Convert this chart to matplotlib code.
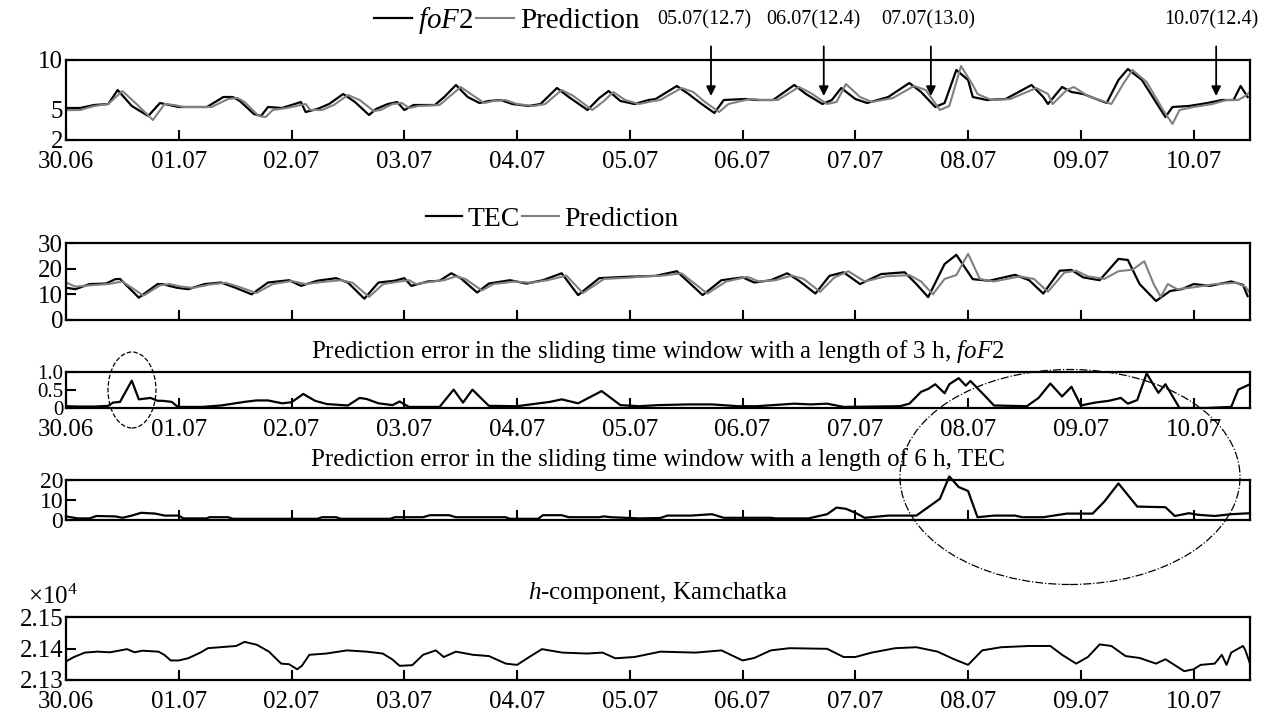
import matplotlib
matplotlib.use('Agg')
import matplotlib.pyplot as plt
from matplotlib.patches import Ellipse
from matplotlib.ticker import FuncFormatter
import numpy as np

plt.rcParams['font.family'] = ['Liberation Serif', 'DejaVu Serif']
plt.rcParams['mathtext.fontset'] = 'custom'
plt.rcParams['mathtext.rm'] = 'Liberation Serif'
plt.rcParams['mathtext.it'] = 'Liberation Serif:italic'
plt.rcParams['font.size'] = 18

day_labels = ['30.06', '01.07', '02.07', '03.07', '04.07', '05.07',
              '06.07', '07.07', '08.07', '09.07', '10.07']

# foF2 (hours since 30.06 00:00, MHz)
fof2_t = [0, 3, 6, 9, 11, 14, 17.5, 20, 22, 24, 30, 33.5, 35.5, 37, 40, 41.5, 43, 46, 50, 51,
          53.5, 56, 59, 61.5, 64.5, 66, 68.5, 70.5, 72, 74, 78.5, 80.5, 83, 85.5, 88, 90, 92.5,
          95, 98.5, 101, 104.5, 107, 111, 113.5, 115.5, 118, 121, 124, 125.5, 130, 132.5, 135,
          138, 140, 144.5, 147, 150.5, 155, 157.5, 161, 163, 165, 168, 170.5, 175, 179.5, 182,
          185, 187, 189.5, 192, 193, 196, 200, 205.5, 208, 209, 212, 214, 216.5, 221.5, 224,
          226, 229, 232.5, 234, 235.5, 239, 243, 246, 248.5, 250, 251.5]
fof2_v = [5.2, 5.2, 5.5, 5.6, 7.0, 5.4, 4.4, 5.7, 5.5, 5.3, 5.3, 6.3, 6.3, 5.9, 4.6, 4.4, 5.3,
          5.2, 5.8, 4.8, 5.1, 5.6, 6.6, 5.8, 4.5, 5.1, 5.6, 5.8, 5.0, 5.5, 5.5, 6.3, 7.5, 6.3,
          5.7, 5.9, 6.0, 5.6, 5.4, 5.6, 7.2, 6.3, 5.0, 6.2, 6.9, 5.9, 5.6, 6.0, 6.1, 7.4, 6.6,
          5.7, 4.7, 6.0, 6.1, 6.0, 6.0, 7.5, 6.6, 5.6, 6.0, 7.2, 6.1, 5.7, 6.3, 7.7, 6.8, 5.3,
          5.7, 9.0, 8.0, 6.3, 6.0, 6.1, 7.5, 6.3, 5.6, 7.3, 6.8, 6.6, 5.7, 8.0, 9.1, 8.0, 5.4,
          4.3, 5.3, 5.4, 5.7, 6.0, 6.0, 7.4, 6.3]
fof2_pred_t = [0, 3, 6, 9, 12, 15, 18.5, 21, 23, 25, 31, 34.5, 36.5, 38, 41, 42.5, 44, 47, 51,
               52, 54.5, 57, 60, 62.5, 65.5, 67, 69.5, 71.5, 73, 75, 79.5, 81.5, 84, 86.5, 89,
               91, 93.5, 96, 99.5, 102, 105.5, 108, 112, 114.5, 116.5, 119, 122, 125, 126.5,
               131, 133.5, 136, 139, 141, 145.5, 148, 151.5, 156, 158.5, 162, 164, 166, 169,
               171.5, 176, 180.5, 183, 186, 188, 190.5, 193, 194, 197, 201, 206.5, 209, 210,
               213, 214.5, 217.5, 222.5, 225, 227, 230, 233.5, 235.5, 237, 240, 244, 247,
               249.5, 251, 252]
fof2_pred_v = [5.0, 5.0, 5.4, 5.6, 6.9, 5.6, 4.0, 5.6, 5.5, 5.3, 5.3, 6.1, 6.2, 5.8, 4.4, 4.3,
               5.0, 5.2, 5.6, 5.0, 5.0, 5.5, 6.5, 6.0, 4.9, 5.0, 5.6, 5.7, 5.2, 5.4, 5.5, 6.3,
               7.3, 6.5, 5.7, 5.9, 6.0, 5.6, 5.4, 5.6, 7.0, 6.4, 5.0, 5.9, 6.8, 6.0, 5.6, 5.9,
               6.0, 7.2, 6.8, 5.8, 4.8, 5.6, 6.1, 6.0, 6.0, 7.3, 6.7, 5.6, 5.8, 7.6, 6.3, 5.8,
               6.2, 7.4, 7.0, 5.0, 5.4, 9.4, 7.5, 6.6, 6.0, 6.1, 7.2, 6.6, 5.6, 7.0, 7.3, 6.4,
               5.6, 7.6, 9.0, 7.8, 5.0, 3.6, 5.0, 5.3, 5.6, 6.0, 6.0, 6.4, 6.8]

# TEC (TECU)
tec_t = [0, 2, 5, 8.5, 10.5, 11.5, 15.5, 19.5, 20.5, 23.5, 26, 29.5, 33, 36, 39.5, 43, 47.5,
         50, 53.5, 57.5, 60, 63.5, 66.5, 70, 72, 73.5, 77, 79.5, 82, 84, 87.5, 90, 94.5, 98,
         101.5, 105.5, 109, 113.5, 119, 122, 125.5, 130, 135.5, 139.5, 144, 146.5, 150, 153.5,
         156, 159.5, 162.5, 165.5, 169, 173.5, 178.5, 181, 183.5, 187, 189.5, 193, 196.5, 202,
         205, 208, 211.5, 214, 216.5, 220, 224, 226, 228.5, 232, 235, 237.5, 240, 243.5, 248,
         250.5, 251.5]
tec_v = [12.6, 12.0, 14.0, 14.2, 15.9, 16.0, 8.7, 14.0, 14.0, 12.6, 12.0, 14.0, 14.6, 12.6,
         10.0, 14.6, 15.5, 13.3, 15.3, 16.3, 14.6, 8.3, 14.6, 15.3, 16.3, 13.3, 15.0, 15.3,
         18.2, 16.3, 10.7, 14.2, 15.5, 14.2, 15.5, 18.2, 9.7, 16.3, 16.8, 17.0, 17.2, 19.0,
         9.7, 15.5, 16.6, 14.6, 15.5, 18.2, 15.3, 10.3, 17.2, 18.6, 14.0, 17.9, 18.6, 14.0,
         8.9, 21.8, 25.4, 15.9, 15.3, 17.6, 15.5, 10.3, 19.2, 19.5, 16.6, 15.5, 23.8, 23.4,
         14.0, 7.4, 11.3, 12.0, 14.0, 13.3, 15.0, 13.7, 9.3]
tec_pred_t = [0, 2, 5, 9, 12, 16.5, 20, 22, 24.5, 27, 30.5, 34, 37, 40.5, 44, 48, 51, 54.5,
              58.5, 61, 64.5, 67.5, 71, 73, 74.5, 78, 80.5, 83, 85, 88.5, 91, 95.5, 99, 102.5,
              106.5, 110, 114.5, 120, 123, 126.5, 131, 136.5, 140.5, 145, 147.5, 151, 154.5,
              157, 160.5, 163.5, 166.5, 170, 174.5, 179.5, 182, 184.5, 187, 189.5, 192, 194.5,
              197.5, 203, 206, 209, 212.5, 215, 217.5, 221, 224, 227, 229.5, 231.5, 233,
              234.5, 236.5, 239, 241, 244.5, 249, 251, 252]
tec_pred_v = [14.6, 13.0, 13.5, 14.0, 15.0, 9.5, 13.5, 14.0, 13.0, 12.5, 13.8, 14.5, 12.8,
              10.5, 14.0, 15.2, 14.0, 14.8, 15.5, 14.5, 9.0, 14.0, 15.0, 15.5, 14.0, 15.0,
              15.5, 17.0, 16.0, 11.5, 14.0, 15.0, 14.5, 15.5, 17.3, 10.5, 16.0, 16.5, 17.0,
              17.2, 18.2, 10.3, 15.0, 16.8, 15.0, 15.5, 17.3, 16.0, 11.0, 16.5, 19.0, 15.0,
              17.0, 17.5, 15.0, 10.0, 16.0, 17.5, 25.8, 16.0, 15.0, 17.0, 16.0, 11.0, 18.5,
              19.2, 17.0, 16.0, 19.0, 19.6, 22.9, 14.0, 9.0, 14.0, 12.0, 12.5, 13.0, 14.0,
              14.5, 13.0, 10.5]

# sliding-window prediction error, 3 h, foF2
err3_t = [0, 3, 6, 9, 10, 11.5, 14, 15.5, 18, 19.5, 20.5, 22.5, 23.8, 29, 33, 38, 40.5, 43,
          46, 48, 50.5, 53, 55.5, 60, 62.5, 64, 66.5, 69.5, 71, 73, 79.5, 82.5, 84.5, 86.5,
          90, 96, 103, 105.5, 109, 114, 118, 122, 126, 132.5, 137.5, 143, 147, 155, 158.5,
          162, 165.5, 177.5, 179.5, 182, 183.5, 185, 187, 188, 190, 191.5, 192.5, 196, 197.5,
          204.5, 207, 209.5, 212, 214, 216, 219, 222, 224.5, 226, 228, 230, 232.5, 234, 237,
          242.5, 248, 249.5, 252]
err3_v = [0.05, 0.04, 0.04, 0.06, 0.15, 0.17, 0.76, 0.24, 0.28, 0.2, 0.2, 0.17, 0.03, 0.03,
          0.07, 0.17, 0.21, 0.21, 0.13, 0.16, 0.39, 0.2, 0.11, 0.07, 0.28, 0.25, 0.13, 0.08,
          0.18, 0.03, 0.03, 0.51, 0.15, 0.51, 0.06, 0.05, 0.17, 0.24, 0.13, 0.47, 0.08, 0.05,
          0.08, 0.1, 0.1, 0.05, 0.05, 0.12, 0.1, 0.12, 0.03, 0.05, 0.12, 0.45, 0.53, 0.66,
          0.41, 0.66, 0.83, 0.62, 0.75, 0.28, 0.07, 0.05, 0.28, 0.68, 0.32, 0.59, 0.07, 0.15,
          0.2, 0.28, 0.12, 0.22, 0.96, 0.42, 0.66, 0.0, 0.0, 0.03, 0.51, 0.66]

# sliding-window prediction error, 6 h, TEC
err6_t = [0, 2.5, 5, 6.5, 10.5, 12, 14, 16, 19, 21, 24, 25, 30, 30.5, 34.5, 35.5, 53.5, 54.5,
          57.5, 58.5, 69, 70, 76, 77.5, 81.5, 83, 93.5, 94.5, 100.5, 101.5, 105.5, 107, 113.5,
          114.5, 116, 122, 126.5, 128, 133, 137.5, 140, 150, 151, 158, 162, 164, 166, 168,
          170, 175, 181, 183.5, 186, 188, 190, 192, 194, 197.5, 202, 203.5, 208, 213, 218.5,
          221, 224, 228, 234, 236, 239, 241, 244.5, 248, 252]
err6_v = [1.8, 0.8, 0.8, 2.0, 1.8, 1.1, 2.2, 3.6, 3.2, 2.2, 2.2, 0.8, 0.8, 1.4, 1.4, 0.6, 0.6,
          1.4, 1.4, 0.6, 0.6, 1.4, 1.4, 2.4, 2.4, 1.4, 1.4, 0.6, 0.6, 2.4, 2.4, 1.4, 1.4, 1.8,
          1.4, 0.8, 1.0, 2.2, 2.2, 2.9, 1.1, 1.1, 0.8, 0.8, 2.9, 6.2, 5.6, 3.6, 1.1, 2.2, 2.2,
          6.4, 10.6, 21.8, 16.5, 14.5, 1.4, 2.2, 2.2, 1.4, 1.4, 3.2, 3.2, 9.2, 18.3, 6.7, 6.4,
          2.0, 3.4, 2.6, 2.0, 2.9, 3.4]

# H-component of the geomagnetic field, Kamchatka (nT)
hcomp_t = [0, 1.7, 4, 6.7, 9.4, 13, 14.6, 16.3, 19.7, 20.9, 22.3, 24, 26, 28.6, 30.2, 33.6,
           36.2, 38, 40.6, 43.2, 45.8, 47.5, 49.2, 50.2, 51.8, 55.4, 59.8, 64, 67.4, 69.4, 71,
           73.7, 76, 78.7, 80.4, 83, 86.6, 90, 93.6, 96, 98.6, 101.3, 105.6, 110.9, 114.2,
           116.9, 121, 126.5, 134, 139.5, 144, 146.5, 150, 154, 162, 165.5, 168, 171.5, 176.5,
           181, 185.5, 189, 192, 195, 199, 205, 209.5, 212, 215, 217.5, 220, 222.5, 225.5,
           228.5, 232, 234, 238, 240, 241.5, 244.5, 246, 247, 248, 250.5, 251, 252]
hcomp_v = [21359, 21373, 21387, 21390, 21388, 21398, 21388, 21393, 21390, 21380, 21362,
           21362, 21369, 21387, 21401, 21405, 21408, 21421, 21412, 21390, 21352, 21350,
           21334, 21345, 21380, 21384, 21394, 21390, 21384, 21366, 21345, 21347, 21380,
           21394, 21373, 21390, 21380, 21376, 21352, 21348, 21373, 21398, 21387, 21384,
           21387, 21369, 21373, 21390, 21387, 21394, 21362, 21370, 21394, 21401, 21399,
           21373, 21373, 21387, 21401, 21404, 21390, 21366, 21348, 21394, 21404, 21408,
           21408, 21380, 21352, 21373, 21413, 21408, 21376, 21370, 21352, 21366, 21328,
           21334, 21348, 21352, 21380, 21348, 21387, 21408, 21395, 21352]

# arrows on the foF2 panel: (arrow day, label day, label)
marks_day = [5.72, 6.72, 7.67, 10.2]
marks_lab_day = [5.66, 6.63, 7.65, 10.16]
marks_text = ['05.07(12.7)', '06.07(12.4)', '07.07(13.0)', '10.07(12.4)']

W, H = 1276, 726
fig = plt.figure(figsize=(W / 100, H / 100), dpi=100)


def box(top, bottom):
    return [66 / W, 1 - bottom / H, 1184 / W, (bottom - top) / H]


def style(ax, labels=True):
    ax.set_xlim(0, 10.5)
    ax.set_xticks(range(11))
    ax.set_xticklabels(day_labels if labels else [])
    ax.tick_params(direction='in', length=7, width=1.5, top=False, right=False)
    ax.tick_params(axis='x', pad=8)
    ax.tick_params(axis='y', pad=2)
    for s in ax.spines.values():
        s.set_linewidth(1.6)


def days(t):
    return np.array(t) / 24.0


ax1 = fig.add_axes(box(60, 140))
l1, = ax1.plot(days(fof2_t), fof2_v, color='black', lw=1.6)
l2, = ax1.plot(days(fof2_pred_t), fof2_pred_v, color='#808080', lw=1.5)
ax1.set_ylim(2, 10)
ax1.set_yticks([2, 5, 10])
style(ax1)
fig.legend([l1, l2], [r'$\mathit{foF}$2', 'Prediction'], loc='center',
           bbox_to_anchor=(507 / W, 1 - 21 / H), ncol=2, frameon=False,
           handlelength=1.3, handletextpad=0.2, columnspacing=0.1, fontsize=21)
for d, ld, s in zip(marks_day, marks_lab_day, marks_text):
    ax1.annotate('', xy=(d, 6.4), xytext=(d, 1.17),
                 textcoords=('data', 'axes fraction'),
                 arrowprops=dict(arrowstyle='-|>', color='black', lw=1.3,
                                 mutation_scale=14, shrinkA=0, shrinkB=0))
    ax1.text(ld, 1.5, s, transform=ax1.get_xaxis_transform(), ha='center',
             va='center', fontsize=14.5)

ax2 = fig.add_axes(box(243, 320))
t1, = ax2.plot(days(tec_t), tec_v, color='black', lw=1.6)
t2, = ax2.plot(days(tec_pred_t), tec_pred_v, color='#808080', lw=1.5)
ax2.set_ylim(0, 30)
ax2.set_yticks([0, 10, 20, 30])
style(ax2, labels=False)
fig.legend([t1, t2], ['TEC', 'Prediction'], loc='center',
           bbox_to_anchor=(552 / W, 1 - 219 / H), ncol=2, frameon=False,
           handlelength=1.3, handletextpad=0.2, columnspacing=0.1, fontsize=20)

ax3 = fig.add_axes(box(372, 408))
ax3.plot(days(err3_t), err3_v, color='black', lw=1.6)
ax3.set_ylim(0, 1)
ax3.set_yticks([0, 0.5, 1.0])
ax3.set_yticklabels(['0', '0.5', '1.0'])
style(ax3)
ax3.tick_params(axis='y', labelsize=15)
ax3.set_title(r'Prediction error in the sliding time window with a length of 3 h, $\mathit{foF}$2',
              fontsize=18, pad=10)

ax4 = fig.add_axes(box(480, 520))
ax4.plot(days(err6_t), err6_v, color='black', lw=1.6, clip_on=False)
ax4.set_ylim(0, 20)
ax4.set_yticks([0, 10, 20])
style(ax4, labels=False)
ax4.tick_params(axis='y', labelsize=17)
ax4.set_title('Prediction error in the sliding time window with a length of 6 h, TEC',
              fontsize=18, pad=10)

ax5 = fig.add_axes(box(617, 680))
ax5.plot(days(hcomp_t), hcomp_v, color='black', lw=1.4)
ax5.set_ylim(21300, 21500)
ax5.set_yticks([21300, 21400, 21500])
ax5.yaxis.set_major_formatter(FuncFormatter(lambda v, p: '%.2f' % (v / 1e4)))
style(ax5)
ax5.set_title(r'$h$-component, Kamchatka', fontsize=18, pad=13)
fig.text(28 / W, 1 - 597 / H, r'$\times$10$^4$', fontsize=18, va='center')

# hand-drawn marks around the notable error peaks
fig.patches.append(Ellipse((132 / W, 1 - 390 / H), 48 / W, 76 / H, transform=fig.transFigure,
                           fill=False, ls='--', lw=0.9, color='black'))
fig.patches.append(Ellipse((1070 / W, 1 - 477 / H), 340 / W, 215 / H, transform=fig.transFigure,
                           fill=False, ls='-.', lw=0.9, color='black'))

fig.savefig('out.png', dpi=100)
